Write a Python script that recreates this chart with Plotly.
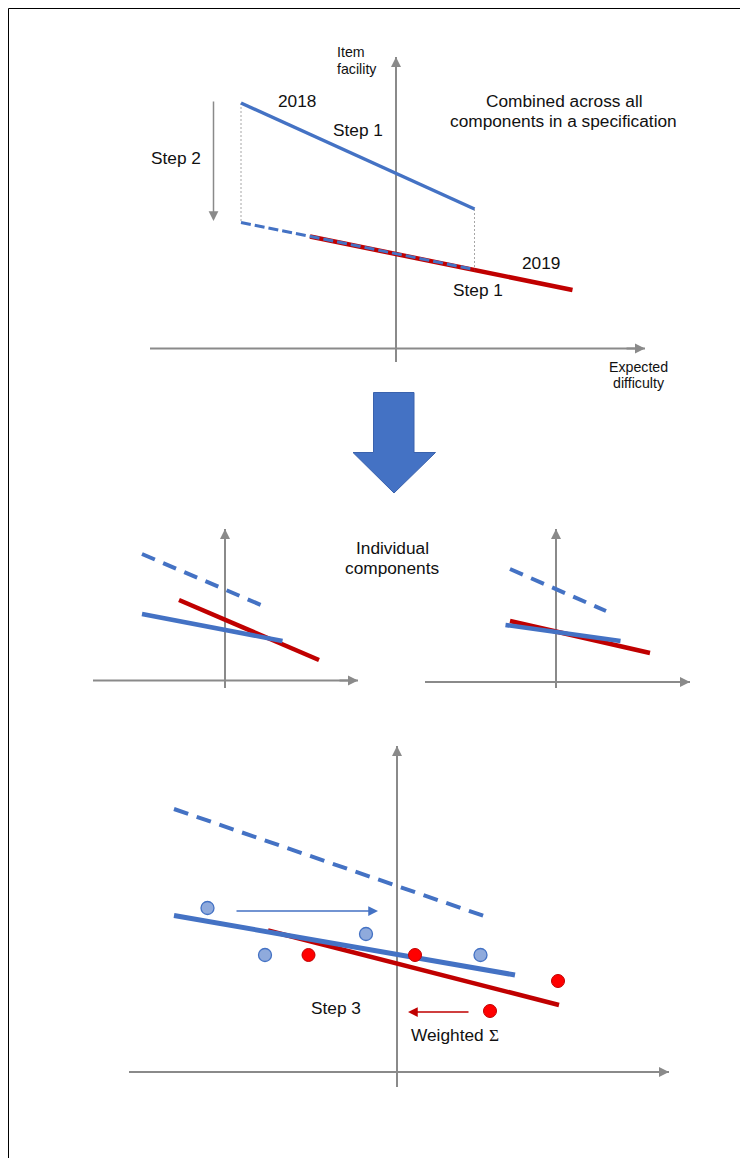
import plotly.graph_objects as go

# ---------------- colours ----------------
BLUE = "#4472C4"
RED = "#C00000"
GRAY = "#8A8A8A"
LIGHT_BLUE = "#8FAADC"
BRIGHT_RED = "#FF0000"
TEXT = "#111111"
FONT = "Arial, Liberation Sans, sans-serif"
SERIF = "Liberation Serif, Times New Roman, serif"

# ---------------- data (diagram coordinates, page pixels) ----------------
frame_x = [8.5, 8.5, 748]
frame_y = [1166, 8.5, 8.5]

# top panel: combined across all components
top_xaxis_x = [150, 645]
top_xaxis_y = [348.5, 348.5]
top_yaxis_x = [396, 396]
top_yaxis_y = [362, 57]
line2018_x = [241, 474.5]
line2018_y = [103, 209]
dashed2018_x = [241, 474.5]
dashed2018_y = [222.5, 269.5]
line2019_x = [310, 572.5]
line2019_y = [236.5, 290]
guide_x = [241, 241, None, 474.5, 474.5]
guide_y = [103, 222.5, None, 209, 269.5]
step2_x = [213.5, 213.5]
step2_y = [100, 221]

# block arrow
block_x = [373.5, 414, 414, 435.5, 394, 353, 373.5, 373.5]
block_y = [392.5, 392.5, 452.5, 452.5, 493, 452.5, 452.5, 392.5]

# middle-left panel
ml_xaxis_x = [93, 358]
ml_xaxis_y = [680.5, 680.5]
ml_yaxis_x = [225, 225]
ml_yaxis_y = [688, 529]
ml_dash_x = [142, 268]
ml_dash_y = [554, 608]
ml_red_x = [179, 319]
ml_red_y = [600, 660]
ml_blue_x = [142, 282.5]
ml_blue_y = [614, 641]

# middle-right panel
mr_xaxis_x = [425, 690]
mr_xaxis_y = [682, 682]
mr_yaxis_x = [556, 556]
mr_yaxis_y = [688, 529]
mr_dash_x = [510, 606]
mr_dash_y = [569, 611]
mr_red_x = [510, 650]
mr_red_y = [621, 653]
mr_blue_x = [505.5, 620.5]
mr_blue_y = [625, 641]

# bottom panel
b_xaxis_x = [129, 669]
b_xaxis_y = [1072, 1072]
b_yaxis_x = [397, 397]
b_yaxis_y = [1087, 746]
b_dash_x = [174, 484]
b_dash_y = [809, 916]
b_blue_x = [174, 515]
b_blue_y = [915.5, 975]
b_red_x = [268, 559]
b_red_y = [930.5, 1005]
blue_pts_x = [207.5, 366, 265, 480.5]
blue_pts_y = [908, 934, 955, 955]
red_pts_x = [308.5, 415, 558, 490]
red_pts_y = [955, 955, 981, 1011]
blue_arrow_x = [235, 378]
blue_arrow_y = [911, 911]
red_arrow_x = [470, 408]
red_arrow_y = [1012, 1012]

# labels: (text, x, y, size, anchor, font)
labels = [
    ("Item", 335, 52, 14.2, "left", FONT),
    ("facility", 335, 69, 14.2, "left", FONT),
    ("Expected", 638.5, 367, 14.2, "center", FONT),
    ("difficulty", 638.5, 383, 14.2, "center", FONT),
    ("2018", 297, 101, 17.3, "center", FONT),
    ("Step 1", 358, 130, 17.3, "center", FONT),
    ("Step 2", 176, 158, 17.3, "center", FONT),
    ("Combined across all", 564, 101, 17.3, "center", FONT),
    ("components in a specification", 563, 121, 17.3, "center", FONT),
    ("2019", 541, 263, 17.3, "center", FONT),
    ("Step 1", 477.5, 290, 17.3, "center", FONT),
    ("Individual", 392.5, 548, 17.3, "center", FONT),
    ("components", 392, 568, 17.3, "center", FONT),
    ("Step 3", 336, 1008, 17.3, "center", FONT),
    ("Weighted", 409, 1035, 17.3, "left", FONT),
    ("Σ", 493.5, 1035, 17.3, "center", SERIF),
]

fig = go.Figure()


def line(x, y, color, width, dash="solid"):
    fig.add_trace(go.Scatter(x=x, y=y, mode="lines", hoverinfo="skip",
                             line=dict(color=color, width=width, dash=dash)))


def arrow(x, y, color, width, size, head_len=None):
    # x, y: [tail, tip]
    ax, ay = x[0], y[0]
    if head_len is not None:
        # only a short tail segment for the head (the full line is drawn separately)
        dx, dy = x[1] - x[0], y[1] - y[0]
        d = (dx * dx + dy * dy) ** 0.5
        ax = x[1] - dx / d * head_len
        ay = y[1] - dy / d * head_len
    fig.add_annotation(x=x[1], y=y[1], ax=ax, ay=ay, xref="x", yref="y",
                       axref="x", ayref="y", showarrow=True, text="",
                       arrowhead=2, arrowwidth=width, arrowsize=size,
                       arrowcolor=color, standoff=0)


# frame
line(frame_x, frame_y, "#000000", 1)

# axes (full lines beneath, heads as annotations)
for ax_x, ax_y in [(top_xaxis_x, top_xaxis_y), (top_yaxis_x, top_yaxis_y),
                   (ml_xaxis_x, ml_xaxis_y), (ml_yaxis_x, ml_yaxis_y),
                   (mr_xaxis_x, mr_xaxis_y), (mr_yaxis_x, mr_yaxis_y),
                   (b_xaxis_x, b_xaxis_y), (b_yaxis_x, b_yaxis_y)]:
    line(ax_x, ax_y, GRAY, 2)
    arrow(ax_x, ax_y, GRAY, 2, 1.0, head_len=20)

# top panel
line(guide_x, guide_y, "#A6A6A6", 1, "2px,2px")
line(line2018_x, line2018_y, BLUE, 3.5)
line(line2019_x, line2019_y, RED, 4.5)
line(dashed2018_x, dashed2018_y, BLUE, 3, "10px,4px")
arrow(step2_x, step2_y, GRAY, 1.5, 1.3)

# block arrow
fig.add_trace(go.Scatter(x=block_x, y=block_y, mode="lines", fill="toself",
                         fillcolor=BLUE, hoverinfo="skip",
                         line=dict(color="#3A62AD", width=1)))

# middle panels
line(ml_dash_x, ml_dash_y, BLUE, 4, "14px,9px")
line(ml_red_x, ml_red_y, RED, 4.5)
line(ml_blue_x, ml_blue_y, BLUE, 4.5)
line(mr_dash_x, mr_dash_y, BLUE, 4, "14px,9px")
line(mr_red_x, mr_red_y, RED, 4.5)
line(mr_blue_x, mr_blue_y, BLUE, 4.5)

# bottom panel
line(b_dash_x, b_dash_y, BLUE, 4, "15px,9px")
line(b_red_x, b_red_y, RED, 4.5)
line(b_blue_x, b_blue_y, BLUE, 5)
fig.add_trace(go.Scatter(x=blue_pts_x, y=blue_pts_y, mode="markers", hoverinfo="skip",
                         marker=dict(size=13, color=LIGHT_BLUE,
                                     line=dict(color=BLUE, width=1.3))))
fig.add_trace(go.Scatter(x=red_pts_x, y=red_pts_y, mode="markers", hoverinfo="skip",
                         marker=dict(size=13, color=BRIGHT_RED,
                                     line=dict(color=RED, width=1))))
arrow(blue_arrow_x, blue_arrow_y, BLUE, 1.5, 1.3)
arrow(red_arrow_x, red_arrow_y, RED, 1.5, 1.3)

for text, x, y, size, anchor, family in labels:
    fig.add_annotation(x=x, y=y, xref="x", yref="y", text=text, showarrow=False,
                       xanchor=anchor, yanchor="middle",
                       font=dict(family=family, size=size, color=TEXT))

fig.update_layout(
    width=732, height=1150,
    margin=dict(l=0, r=0, t=0, b=0, pad=0),
    paper_bgcolor="white", plot_bgcolor="white",
    showlegend=False,
    xaxis=dict(range=[8, 740], visible=False, fixedrange=True),
    yaxis=dict(range=[1158, 8], visible=False, fixedrange=True),
)

fig.write_html("out.html")
